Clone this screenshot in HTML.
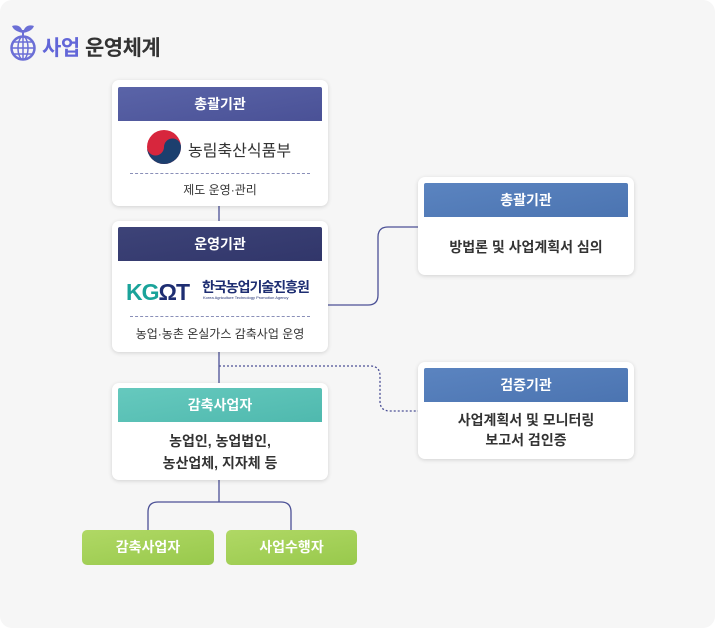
<!DOCTYPE html>
<html><head><meta charset="utf-8"><style>
*{margin:0;padding:0;box-sizing:border-box}
body{width:715px;height:628px;background:#fff;font-family:"Liberation Sans","Noto Sans CJK KR",sans-serif;position:relative;overflow:hidden}
.bg{position:absolute;left:0;top:0;width:715px;height:628px;background:#f6f6f6;border-radius:12px}
.card{position:absolute;background:#fff;border-radius:7px;box-shadow:0 1px 4px rgba(0,0,0,.15)}
.hd{position:absolute;left:6px;right:6px;height:34px;color:#fff;font-size:14px;font-weight:bold;text-align:center;line-height:34px;border-radius:2px 2px 0 0}
.t{position:absolute;left:0;right:0;text-align:center;color:#333}
.dash{position:absolute;left:18px;right:18px;border-top:1px dashed #8a8fb8}
.btn{position:absolute;height:35px;border-radius:5px;background:linear-gradient(170deg,#b0d865,#98c94c);color:#fff;font-weight:bold;font-size:14px;text-align:center;line-height:35px}
</style></head><body>
<div class="bg"></div>
<svg style="position:absolute;left:8px;top:14px" width="30" height="48" viewBox="0 0 30 48">
<path d="M15 19 C14 13 10 10 4 12 C6 17 11 18 15 19Z" fill="#6b6fd6"/>
<path d="M15 19 C16 13 20 10 26 12 C24 17 19 18 15 19Z" fill="#6b6fd6"/>
<line x1="15" y1="16" x2="15" y2="22" stroke="#6b6fd6" stroke-width="2"/>
<circle cx="15" cy="34" r="11.5" fill="none" stroke="#6b6fd6" stroke-width="2.5"/>
<ellipse cx="15" cy="34" rx="5" ry="11.5" fill="none" stroke="#6b6fd6" stroke-width="1.5"/>
<line x1="3.5" y1="34" x2="26.5" y2="34" stroke="#6b6fd6" stroke-width="1.5"/>
<line x1="5" y1="28" x2="25" y2="28" stroke="#6b6fd6" stroke-width="1.5"/>
<line x1="5" y1="40" x2="25" y2="40" stroke="#6b6fd6" stroke-width="1.5"/>
<line x1="15" y1="22.5" x2="15" y2="45.5" stroke="#6b6fd6" stroke-width="1.5"/>
</svg>
<div style="position:absolute;left:42px;top:32px;font-size:21px;font-weight:bold;color:#333;letter-spacing:-0.5px"><span style="color:#6266d8">사업</span> 운영체계</div>

<svg style="position:absolute;left:0;top:0" width="715" height="628">
<g fill="none" stroke="#4c5196" stroke-width="1.3">
<line x1="219" y1="206" x2="219" y2="221"/>
<line x1="219" y1="352" x2="219" y2="383"/>
<path d="M328 305 H368 Q378 305 378 295 V237 Q378 227 388 227 H418"/>
<path d="M219 366 H370 Q380 366 380 376 V401 Q380 411 390 411 H418" stroke-dasharray="2 2"/>
<line x1="219" y1="480" x2="219" y2="502"/>
<path d="M148 530 V512 Q148 502 158 502 H281 Q291 502 291 512 V530"/>
</g>
</svg>

<div class="card" style="left:112px;top:80px;width:216px;height:126px">
<div class="hd" style="top:7px;background:linear-gradient(170deg,#5a64a8,#4a5196)">총괄기관</div>
<svg style="position:absolute;left:34px;top:49px" width="36" height="36" viewBox="0 0 36 36">
<circle cx="18" cy="18" r="17" fill="#d7263d"/>
<path d="M1 18 A17 17 0 0 0 35 18 A8.5 8.5 0 0 0 18 18 A8.5 8.5 0 0 1 1 18Z" fill="#1c3f6e"/>
<path d="M9 20 A9 9 0 0 1 26 12" fill="none" stroke="#fff" stroke-width="0"/>
</svg>
<div class="t" style="top:57px;left:76px;text-align:left;font-size:16px;color:#333">농림축산식품부</div>
<div class="dash" style="top:93px"></div>
<div class="t" style="top:101px;font-size:12px">제도 운영·관리</div>
</div>

<div class="card" style="left:112px;top:221px;width:216px;height:131px">
<div class="hd" style="top:6px;background:linear-gradient(170deg,#3d4378,#31366a)">운영기관</div>
<div style="position:absolute;left:14px;top:58px;font-size:23px;font-weight:bold;color:#1aa39a;letter-spacing:-1px">KG<span style="color:#1e2e72">ΩT</span></div>
<div style="position:absolute;left:90px;top:56px;font-size:14px;font-weight:bold;color:#1e2e72;letter-spacing:-1px">한국농업기술진흥원</div>
<div style="position:absolute;left:91px;top:74px;font-size:4px;color:#1e2e72">Korea Agriculture Technology Promotion Agency</div>
<div class="dash" style="top:95px"></div>
<div class="t" style="top:104px;font-size:12px">농업·농촌 온실가스 감축사업 운영</div>
</div>

<div class="card" style="left:112px;top:383px;width:216px;height:97px">
<div class="hd" style="top:5px;background:linear-gradient(170deg,#66c9be,#4fb9ae)">감축사업자</div>
<div class="t" style="top:47px;font-size:14px;font-weight:bold;line-height:22px">농업인, 농업법인,<br>농산업체, 지자체 등</div>
</div>

<div class="card" style="left:418px;top:177px;width:216px;height:98px">
<div class="hd" style="top:6px;background:linear-gradient(170deg,#5b84c0,#4b74b1)">총괄기관</div>
<div class="t" style="top:60px;font-size:14px;font-weight:bold">방법론 및 사업계획서 심의</div>
</div>

<div class="card" style="left:418px;top:362px;width:216px;height:97px">
<div class="hd" style="top:6px;background:linear-gradient(170deg,#5b84c0,#4b74b1)">검증기관</div>
<div class="t" style="top:48px;font-size:14px;font-weight:bold;line-height:20px">사업계획서 및 모니터링<br>보고서 검인증</div>
</div>

<div class="btn" style="left:82px;top:530px;width:132px">감축사업자</div>
<div class="btn" style="left:226px;top:530px;width:131px">사업수행자</div>
</body></html>
